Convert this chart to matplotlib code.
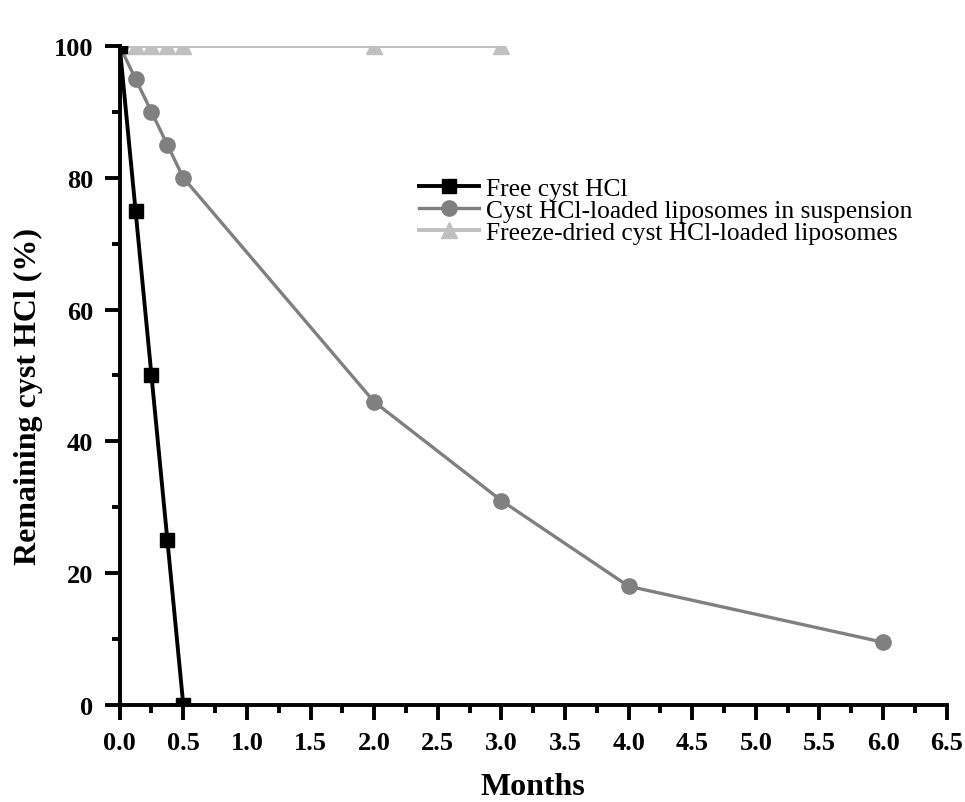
import matplotlib.pyplot as plt
from matplotlib.ticker import MultipleLocator

# data
free_x = [0, 0.125, 0.25, 0.375, 0.5]
free_y = [100, 75, 50, 25, 0]

susp_x = [0, 0.125, 0.25, 0.375, 0.5, 2, 3, 4, 6]
susp_y = [100, 95, 90, 85, 80, 46, 31, 18, 9.5]

dry_x = [0, 0.125, 0.25, 0.375, 0.5, 2, 3]
dry_y = [100, 100, 100, 100, 100, 100, 100]

labels = [
    "Free cyst HCl",
    "Cyst HCl-loaded liposomes in suspension",
    "Freeze-dried cyst HCl-loaded liposomes",
]

plt.rcParams["font.family"] = ["Liberation Serif", "DejaVu Serif"]

fig = plt.figure(figsize=(9.65, 8.03), dpi=100)
ax = fig.add_axes([0.124, 0.121, 0.857, 0.8205])

ax.plot(free_x, free_y, color="black", lw=2.8, marker="s", ms=10,
        label=labels[0], zorder=4)
ax.plot(susp_x, susp_y, color="#808080", lw=2.4, marker="o", ms=11,
        label=labels[1], zorder=3)
ax.plot(dry_x, dry_y, color="#c0c0c0", lw=2.8, marker="^", ms=11,
        label=labels[2], zorder=2)

ax.set_xlim(0, 6.5)
ax.set_ylim(0, 100)
ax.xaxis.set_major_locator(MultipleLocator(0.5))
ax.xaxis.set_minor_locator(MultipleLocator(0.25))
ax.yaxis.set_major_locator(MultipleLocator(20))
ax.yaxis.set_minor_locator(MultipleLocator(10))
ax.xaxis.set_major_formatter(lambda v, p: f"{v:.1f}")

for side in ["top", "right"]:
    ax.spines[side].set_visible(False)
for side in ["left", "bottom"]:
    ax.spines[side].set_linewidth(2.8)
    ax.spines[side].set_zorder(5)

ax.tick_params(which="major", direction="out", length=11, width=2.8,
               labelsize=19, pad=8)
ax.tick_params(which="minor", direction="out", length=6, width=2.8)
for lbl in ax.get_xticklabels() + ax.get_yticklabels():
    lbl.set_fontweight("bold")

ax.set_xlabel("Months", fontsize=23, fontweight="bold", labelpad=13)
ax.set_ylabel("Remaining cyst HCl (%)", fontsize=23, fontweight="bold")
ax.yaxis.set_label_coords(-0.093, 0.469)

ax.legend(loc="upper left", bbox_to_anchor=(0.35, 0.817), frameon=False,
          fontsize=18.4, handlelength=2.35, handletextpad=0.25,
          labelspacing=-0.02, borderaxespad=0)

fig.savefig("out.png", dpi=100)
